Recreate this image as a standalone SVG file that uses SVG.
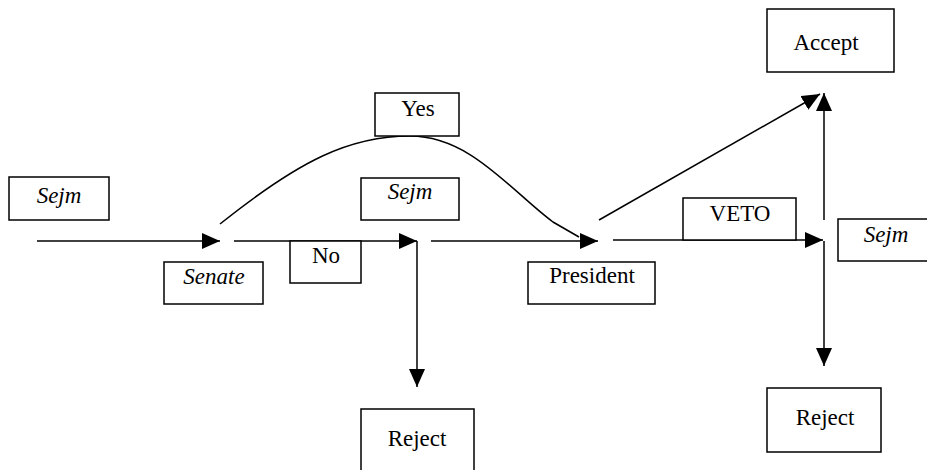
<svg xmlns="http://www.w3.org/2000/svg" width="927" height="470" viewBox="0 0 927 470">
<style>
.box{fill:#fff;stroke:#000;stroke-width:1.5}
.t{font-family:"Liberation Serif","Times New Roman","DejaVu Serif",serif;font-size:23px;fill:#000;text-anchor:middle}
.i{font-style:italic}
.c{fill:none;stroke:#000;stroke-width:1.5}
</style>
<defs>
<marker id="ah" viewBox="0 0 18 16" refX="18" refY="8" markerWidth="18" markerHeight="16" markerUnits="userSpaceOnUse" orient="auto">
<path d="M0,0 L18,8 L0,16 Z" fill="#000"/>
</marker>
</defs>
<rect width="927" height="470" fill="#fff"/>
<g id="connectors">
<line class="c" x1="37" y1="241" x2="220" y2="241" marker-end="url(#ah)"/>
<line class="c" x1="234" y1="241" x2="417" y2="241" marker-end="url(#ah)"/>
<line class="c" x1="431" y1="241" x2="598" y2="241" marker-end="url(#ah)"/>
<line class="c" x1="613" y1="240" x2="823" y2="240" marker-end="url(#ah)"/>
<line class="c" x1="417" y1="241" x2="417" y2="387" marker-end="url(#ah)"/>
<line class="c" x1="824" y1="241" x2="824" y2="366" marker-end="url(#ah)"/>
<line class="c" x1="824" y1="220" x2="824" y2="93" marker-end="url(#ah)"/>
<line class="c" x1="599" y1="220" x2="820" y2="94" marker-end="url(#ah)"/>
<path class="c" d="M220,224 C300,160 350,136 410,136 C470,136 510,190 553,222 L579,237"/>
</g>
<g id="sejm1"><rect class="box" x="9" y="177" width="100" height="43"/><text class="t i" x="59" y="203">Sejm</text></g>
<g id="senate"><rect class="box" x="164" y="262" width="99" height="42"/><text class="t i" x="214" y="284">Senate</text></g>
<g id="yes"><rect class="box" x="375" y="93" width="84" height="43"/><text class="t" x="418" y="116">Yes</text></g>
<g id="sejm2"><rect class="box" x="361" y="178" width="98" height="42"/><text class="t i" x="410" y="199">Sejm</text></g>
<g id="no"><rect class="box" x="290" y="241" width="71" height="42"/><text class="t" x="326" y="263">No</text></g>
<g id="president"><rect class="box" x="528" y="262" width="127" height="42"/><text class="t" x="592" y="283">President</text></g>
<g id="veto"><rect class="box" x="683" y="198" width="113" height="42"/><text class="t" x="740" y="221">VETO</text></g>
<g id="accept"><rect class="box" x="767" y="9" width="127" height="63"/><text class="t" x="826" y="50">Accept</text></g>
<g id="sejm3"><rect class="box" x="838" y="219" width="92" height="42"/><text class="t i" x="886" y="242">Sejm</text></g>
<g id="reject1"><rect class="box" x="361" y="409" width="113" height="66"/><text class="t" x="417" y="446">Reject</text></g>
<g id="reject2"><rect class="box" x="767" y="388" width="114" height="64"/><text class="t" x="825" y="425">Reject</text></g>
</svg>
